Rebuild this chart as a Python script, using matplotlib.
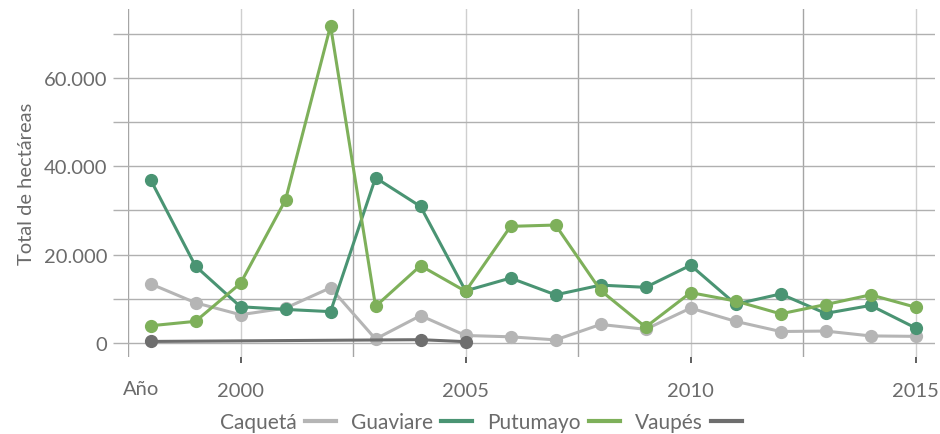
import matplotlib
import matplotlib.pyplot as plt
from matplotlib.ticker import FuncFormatter, MultipleLocator

matplotlib.use("Agg")

plt.rcParams["font.family"] = ["Lato", "DejaVu Sans"]

# ── Data ──────────────────────────────────────────────────────────────────────
years = list(range(1998, 2016))

caqueta = [13400, 9100, 6400, 7900, 12500, 900, 6200, 1700, 1400, 700,
           4200, 3100, 7900, 4900, 2600, 2700, 1600, 1500]
guaviare = [37000, 17400, 8200, 7600, 7100, 37400, 30900, 11800, 14700, 10900,
            13100, 12600, 17600, 8800, 11100, 6700, 8500, 3400]
putumayo = [3900, 4900, 13500, 32400, 71800, 8300, 17500, 11700, 26400, 26700,
            11900, 3600, 11400, 9500, 6600, 8700, 10900, 8100]
vaupes_years = [1998, 2004, 2005]
vaupes = [350, 750, 300]

series = [
    ("Caquetá",  years,        caqueta,  "#b5b5b5"),
    ("Guaviare", years,        guaviare, "#4a9473"),
    ("Putumayo", years,        putumayo, "#7eb05a"),
    ("Vaupés",   vaupes_years, vaupes,   "#6e6e6e"),
]

text_color = "#6b6b6b"

# ── Plot ──────────────────────────────────────────────────────────────────────
fig = plt.figure(figsize=(9.4, 4.35), dpi=100)
ax = fig.add_axes([128 / 940, 1 - 358 / 435, (935 - 128) / 940, (358 - 10) / 435])

for name, xs, ys, color in series:
    ax.plot(xs, ys, color=color, linewidth=2.2, marker="o", markersize=8.5,
            label=name, zorder=3)

ax.set_xlim(1997.5, 2015.43)
ax.set_ylim(-3170, 75600)

ax.xaxis.set_major_locator(MultipleLocator(5))
ax.xaxis.set_minor_locator(MultipleLocator(2.5))
ax.yaxis.set_major_locator(MultipleLocator(20000))
ax.yaxis.set_minor_locator(MultipleLocator(10000))
ax.yaxis.set_major_formatter(FuncFormatter(lambda v, _: f"{int(v):,}".replace(",", ".")))

ax.grid(which="major", axis="x", color="#cfcfcf", linewidth=1)
ax.grid(which="minor", axis="x", color="#a5a5a5", linewidth=1)
ax.grid(which="both", axis="y", color="#b0b0b0", linewidth=1)
ax.set_axisbelow(True)

for s in ax.spines.values():
    s.set_visible(False)

ax.tick_params(axis="x", which="major", length=4, width=1.2, color="#444444",
               labelsize=14.5, labelcolor=text_color, pad=14)
ax.tick_params(axis="x", which="minor", length=0)
ax.tick_params(axis="y", which="both", length=11, width=1, color="#b0b0b0",
               labelsize=14.5, labelcolor=text_color, pad=4)

ax.set_ylabel("Total de hectáreas", fontsize=14.5, color=text_color, labelpad=6)
fig.text(141 / 940, 1 - 395 / 435, "Año", fontsize=14.5, color=text_color,
         ha="center", va="baseline")

leg = ax.legend(loc="center", bbox_to_anchor=(481 / 940, 1 - 423 / 435),
                bbox_transform=fig.transFigure, ncol=4, frameon=False,
                markerfirst=False, fontsize=15, handlelength=1.5,
                handletextpad=0.4, columnspacing=0.7, labelcolor=text_color)
for h in leg.legend_handles:
    h.set_marker("")
    h.set_linewidth(3)

fig.savefig("out.png", dpi=100)
plt.close(fig)
